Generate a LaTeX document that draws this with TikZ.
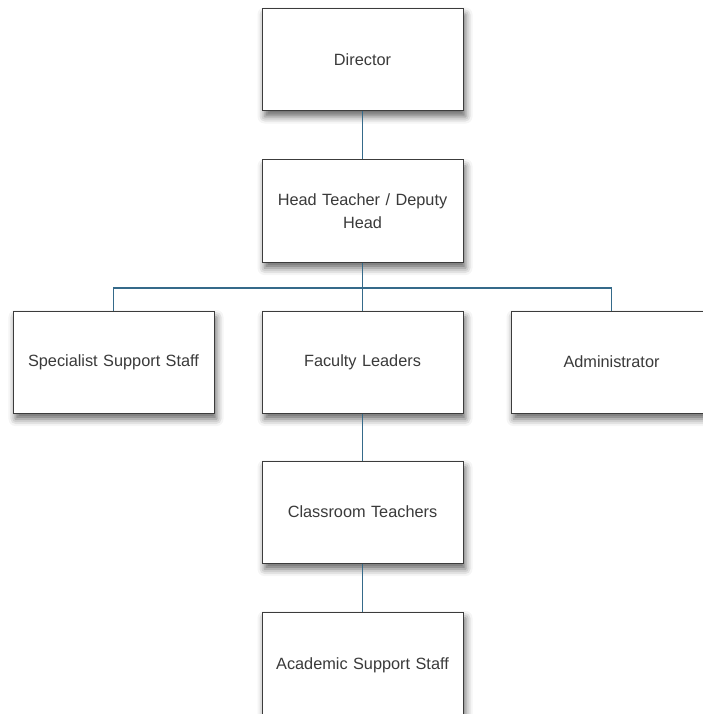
\documentclass[tikz,border=0pt]{standalone}
\usepackage{fontspec}
\setmainfont{Liberation Sans}
\usepackage{xcolor}
\definecolor{orgText}{HTML}{3A3A3A}
\definecolor{orgBorder}{HTML}{3C3C3C}
\definecolor{orgLine}{HTML}{356A8A}
\usetikzlibrary{positioning,shadows.blur}
\tikzset{
    role/.style={
        draw=orgBorder,
        fill=white,
        rectangle,
        line width=1pt,
        align=center,
        minimum height=102pt,
        minimum width=201pt,
        text width=185pt,
        inner sep=0pt,
        blur shadow={shadow xshift=2.5pt, shadow yshift=-6pt,
            shadow blur radius=7pt, shadow opacity=60},
        font=\fontsize{16.3}{23.5}\selectfont\color{orgText}
    },
    link/.style={
        draw=orgLine,
        line width=1.3pt
    }
}
\begin{document}
\begin{tikzpicture}[x=1pt,y=-1pt]
    \useasboundingbox (0,0) rectangle (702,714);
    % top of the chart
    \node[role] (director) at (362.5,59.5) {Director};
    \node[role] (head) at (362.5,211) {Head Teacher / Deputy\\Head};

    % middle row
    \node[role] (faculty) at (362.5,362) {Faculty Leaders};
    \node[role] (specialist) at (113.5,362) {Specialist Support Staff};
    \node[role] (admin) at (611.5,362) {Administrator};

    % lower chain
    \node[role] (classroom) at (362.5,512) {Classroom Teachers};
    \node[role, minimum height=106pt] (academic) at (362.5,665) {\raisebox{2pt}{Academic Support Staff}};

    % connectors
    \coordinate (bus) at (362.5,288);
    \draw[link] (director) -- (head);
    \draw[link] (head) -- (faculty);
    \draw[link] (specialist.north) |- (bus) -| (admin.north);
    \draw[link] (faculty) -- (classroom);
    \draw[link] (classroom) -- (academic);
\end{tikzpicture}
\end{document}
